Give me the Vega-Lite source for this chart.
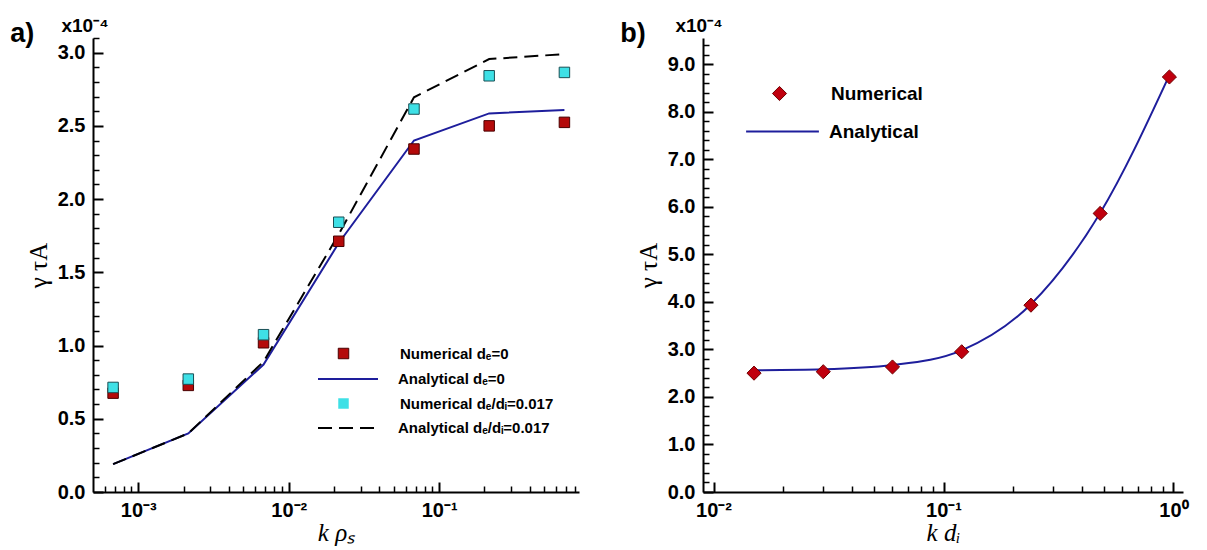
{
  "$schema": "https://vega.github.io/schema/vega-lite/v6.json",
  "background": "white",
  "padding": {"left": 10, "top": 17, "right": 5, "bottom": 5},
  "spacing": 41,
  "resolve": {"scale": {"fill": "independent", "stroke": "independent", "shape": "independent", "strokeDash": "independent"}, "legend": {"fill": "independent", "stroke": "independent", "shape": "independent", "strokeDash": "independent"}},
  "config": {
    "view": {"stroke": null},
    "axis": {
      "grid": false,
      "domainColor": "black",
      "domainWidth": 2,
      "tickColor": "black",
      "tickWidth": 1.5,
      "labelFont": "Liberation Sans",
      "labelFontWeight": "bold",
      "labelFontSize": 20,
      "labelColor": "black",
      "titleFont": "Liberation Serif",
      "titleFontWeight": "normal",
      "titleFontSize": 25,
      "titleColor": "black",
      "labelOverlap": false,
      "labelFlush": false
    },
    "legend": {"labelFont": "Liberation Sans", "labelFontWeight": "bold", "labelColor": "black", "labelLimit": 400, "title": null, "orient": "none"},
    "title": {"font": "Liberation Sans", "fontSize": 27, "fontWeight": "bold", "anchor": "start", "color": "black", "frame": "bounds"}
  },
  "datasets": {
    "left": [
      {"k": 0.00068, "v": 0.675, "series": "Numerical dₑ=0"},
      {"k": 0.00215, "v": 0.728, "series": "Numerical dₑ=0"},
      {"k": 0.0068, "v": 1.019, "series": "Numerical dₑ=0"},
      {"k": 0.0215, "v": 1.712, "series": "Numerical dₑ=0"},
      {"k": 0.068, "v": 2.342, "series": "Numerical dₑ=0"},
      {"k": 0.215, "v": 2.5, "series": "Numerical dₑ=0"},
      {"k": 0.68, "v": 2.524, "series": "Numerical dₑ=0"},
      {"k": 0.00068, "v": 0.714, "series": "Numerical dₑ/dᵢ=0.017"},
      {"k": 0.00215, "v": 0.771, "series": "Numerical dₑ/dᵢ=0.017"},
      {"k": 0.0068, "v": 1.074, "series": "Numerical dₑ/dᵢ=0.017"},
      {"k": 0.0215, "v": 1.842, "series": "Numerical dₑ/dᵢ=0.017"},
      {"k": 0.068, "v": 2.615, "series": "Numerical dₑ/dᵢ=0.017"},
      {"k": 0.215, "v": 2.842, "series": "Numerical dₑ/dᵢ=0.017"},
      {"k": 0.68, "v": 2.865, "series": "Numerical dₑ/dᵢ=0.017"},
      {"k": 0.00068, "v": 0.19, "series": "Analytical dₑ=0"},
      {"k": 0.00215, "v": 0.40, "series": "Analytical dₑ=0"},
      {"k": 0.0068, "v": 0.87, "series": "Analytical dₑ=0"},
      {"k": 0.0215, "v": 1.70, "series": "Analytical dₑ=0"},
      {"k": 0.068, "v": 2.40, "series": "Analytical dₑ=0"},
      {"k": 0.215, "v": 2.585, "series": "Analytical dₑ=0"},
      {"k": 0.68, "v": 2.608, "series": "Analytical dₑ=0"},
      {"k": 0.00068, "v": 0.19, "series": "Analytical dₑ/dᵢ=0.017"},
      {"k": 0.00215, "v": 0.40, "series": "Analytical dₑ/dᵢ=0.017"},
      {"k": 0.0068, "v": 0.89, "series": "Analytical dₑ/dᵢ=0.017"},
      {"k": 0.0215, "v": 1.76, "series": "Analytical dₑ/dᵢ=0.017"},
      {"k": 0.068, "v": 2.695, "series": "Analytical dₑ/dᵢ=0.017"},
      {"k": 0.215, "v": 2.956, "series": "Analytical dₑ/dᵢ=0.017"},
      {"k": 0.68, "v": 2.99, "series": "Analytical dₑ/dᵢ=0.017"}
    ],
    "right": [
      {"k": 0.015, "v": 2.50, "series": "Numerical"},
      {"k": 0.03, "v": 2.53, "series": "Numerical"},
      {"k": 0.06, "v": 2.63, "series": "Numerical"},
      {"k": 0.12, "v": 2.95, "series": "Numerical"},
      {"k": 0.24, "v": 3.93, "series": "Numerical"},
      {"k": 0.48, "v": 5.86, "series": "Numerical"},
      {"k": 0.96, "v": 8.73, "series": "Numerical"},
      {"k": 0.015, "v": 2.56, "series": "Analytical"},
      {"k": 0.03, "v": 2.58, "series": "Analytical"},
      {"k": 0.06, "v": 2.67, "series": "Analytical"},
      {"k": 0.12, "v": 2.98, "series": "Analytical"},
      {"k": 0.24, "v": 3.95, "series": "Analytical"},
      {"k": 0.48, "v": 5.87, "series": "Analytical"},
      {"k": 0.96, "v": 8.77, "series": "Analytical"}
    ]
  },
  "hconcat": [
    {
      "title": {"text": "a)", "dx": -16, "offset": -31},
      "width": 486,
      "height": 454,
      "data": {"name": "left"},
      "resolve": {"axis": {"x": "independent", "y": "independent"}},
      "layer": [
        {
          "transform": [{"filter": "datum.series == 'Analytical dₑ=0'"}],
          "mark": {"type": "line", "strokeWidth": 2},
          "encoding": {
            "x": {
              "field": "k", "type": "quantitative",
              "scale": {"type": "log", "domain": [0.0005, 0.85], "nice": false},
              "axis": {
                "orient": "bottom", "offset": 0,
                "title": "k ρₛ",
                "titleFontStyle": "italic",
                "titlePadding": 0,
                "values": [0.001, 0.01, 0.1],
                "ticks": false,
                "labelPadding": 8,
                "labelOverlap": false,
                "labelExpr": "round(log(datum.value)/LN10) == -3 ? '10⁻³' : round(log(datum.value)/LN10) == -2 ? '10⁻²' : round(log(datum.value)/LN10) == -1 ? '10⁻¹' : '10⁰'"
              }
            },
            "y": {
              "field": "v", "type": "quantitative",
              "scale": {"domain": [0, 3.1], "nice": false, "zero": false},
              "axis": {
                "orient": "left", "offset": 0,
                "title": "γ τA",
                "titlePadding": 6,
                "values": [0, 0.5, 1, 1.5, 2, 2.5, 3],
                "ticks": false,
                "labelPadding": 8,
                "labelOverlap": false,
                "format": ".1f"
              }
            },
            "stroke": {
              "field": "series", "type": "nominal",
              "scale": {"domain": ["Analytical dₑ=0"], "range": ["#1e1e9c"]},
              "legend": {"legendX": 224, "legendY": 310, "symbolSize": 3600, "symbolStrokeWidth": 2, "labelFontSize": 15, "labelOffset": 19}
            }
          }
        },
        {
          "transform": [{"filter": "datum.series == 'Analytical dₑ/dᵢ=0.017'"}],
          "mark": {"type": "line", "color": "black", "strokeWidth": 2},
          "encoding": {
            "x": {
              "field": "k", "type": "quantitative",
              "axis": {
                "orient": "bottom", "offset": -10, "title": null, "labels": false, "domain": false, "ticks": true, "tickSize": 10,
                "tickColor": "black", "tickWidth": 2, "tickOpacity": 1,
                "values": [0.001, 0.01, 0.1]
              }
            },
            "y": {
              "field": "v", "type": "quantitative",
              "axis": {
                "orient": "left", "offset": -10, "title": null, "labels": false, "domain": false, "ticks": true, "tickSize": 10,
                "tickColor": "black", "tickWidth": 2, "tickOpacity": 1,
                "values": [0, 0.5, 1, 1.5, 2, 2.5, 3]
              }
            },
            "strokeDash": {
              "field": "series", "type": "nominal",
              "scale": {"domain": ["Analytical dₑ/dᵢ=0.017"], "range": [[14, 7]]},
              "legend": {"legendX": 224, "legendY": 359, "symbolSize": 3600, "symbolStrokeWidth": 2, "symbolStrokeColor": "black", "labelFontSize": 15, "labelOffset": 19}
            }
          }
        },
        {
          "transform": [{"filter": "datum.series == 'Numerical dₑ=0'"}],
          "mark": {"type": "point", "shape": "square", "filled": true, "size": 110, "strokeWidth": 1, "stroke": "#4a0000", "opacity": 1},
          "encoding": {
            "x": {
              "field": "k", "type": "quantitative",
              "axis": {
                "orient": "bottom", "offset": -6, "title": null, "labels": false, "domain": false, "ticks": true, "tickSize": 6,
                "tickColor": "black", "tickWidth": 1.5, "tickOpacity": 1,
                "values": [0.0006, 0.0007, 0.0008, 0.0009, 0.002, 0.003, 0.004, 0.005, 0.006, 0.007, 0.008, 0.009, 0.02, 0.03, 0.04, 0.05, 0.06, 0.07, 0.08, 0.09, 0.2, 0.3, 0.4, 0.5, 0.6, 0.7, 0.8]
              }
            },
            "y": {
              "field": "v", "type": "quantitative",
              "axis": {
                "orient": "left", "offset": -6, "title": null, "labels": false, "domain": false, "ticks": true, "tickSize": 6,
                "tickColor": "black", "tickWidth": 1.5, "tickOpacity": 1,
                "values": [0.1, 0.2, 0.3, 0.4, 0.6, 0.7, 0.8, 0.9, 1.1, 1.2, 1.3, 1.4, 1.6, 1.7, 1.8, 1.9, 2.1, 2.2, 2.3, 2.4, 2.6, 2.7, 2.8, 2.9, 3.1]
              }
            },
            "fill": {
              "field": "series", "type": "nominal",
              "scale": {"domain": ["Numerical dₑ=0"], "range": ["#b40a0a"]},
              "legend": {"legendX": 243, "legendY": 308, "symbolSize": 110, "symbolStrokeColor": "#4a0000", "symbolStrokeWidth": 1, "labelFontSize": 15, "labelOffset": 49}
            }
          }
        },
        {
          "transform": [{"filter": "datum.series == 'Numerical dₑ/dᵢ=0.017'"}],
          "mark": {"type": "point", "filled": true, "size": 110, "strokeWidth": 1, "fill": "#3ee0e6", "stroke": "#1a4f55", "opacity": 1},
          "encoding": {
            "x": {"field": "k", "type": "quantitative", "axis": null},
            "y": {"field": "v", "type": "quantitative", "axis": null},
            "shape": {
              "field": "series", "type": "nominal",
              "scale": {"domain": ["Numerical dₑ/dᵢ=0.017"], "range": ["square"]},
              "legend": {"legendX": 243, "legendY": 358, "symbolSize": 110, "symbolFillColor": "#3ee0e6", "symbolStrokeColor": "#1a4f55", "symbolStrokeWidth": 1, "labelFontSize": 15, "labelOffset": 49}
            }
          }
        },
        {
          "data": {"values": [{"k": 0.0005, "v": 3.1, "label": "x10⁻⁴"}]},
          "mark": {"type": "text", "font": "Liberation Sans", "fontWeight": "bold", "fontSize": 19, "align": "center", "baseline": "alphabetic", "dx": -8, "dy": -6, "color": "black"},
          "encoding": {
            "x": {"field": "k", "type": "quantitative", "axis": null},
            "y": {"field": "v", "type": "quantitative", "axis": null},
            "text": {"field": "label"}
          }
        }
      ]
    },
    {
      "title": {"text": "b)", "dx": -16, "offset": -31},
      "width": 480,
      "height": 454,
      "data": {"name": "right"},
      "resolve": {"axis": {"x": "independent", "y": "independent"}},
      "layer": [
        {
          "transform": [{"filter": "datum.series == 'Analytical'"}],
          "mark": {"type": "line", "strokeWidth": 2, "interpolate": "monotone"},
          "encoding": {
            "x": {
              "field": "k", "type": "quantitative",
              "scale": {"type": "log", "domain": [0.009, 1.1], "nice": false},
              "axis": {
                "orient": "bottom", "offset": 0,
                "title": "k dᵢ",
                "titleFontStyle": "italic",
                "titlePadding": 0,
                "values": [0.01, 0.1, 1],
                "ticks": false,
                "labelPadding": 8,
                "labelOverlap": false,
                "labelExpr": "round(log(datum.value)/LN10) == -2 ? '10⁻²' : round(log(datum.value)/LN10) == -1 ? '10⁻¹' : '10⁰'"
              }
            },
            "y": {
              "field": "v", "type": "quantitative",
              "scale": {"domain": [0, 9.55], "nice": false, "zero": false},
              "axis": {
                "orient": "left", "offset": 0,
                "title": "γ τA",
                "titlePadding": 6,
                "values": [0, 1, 2, 3, 4, 5, 6, 7, 8, 9],
                "ticks": false,
                "labelPadding": 8,
                "labelOverlap": false,
                "format": ".1f"
              }
            },
            "stroke": {
              "field": "series", "type": "nominal",
              "scale": {"domain": ["Analytical"], "range": ["#1e1e9c"]},
              "legend": {"legendX": 42, "legendY": 56, "symbolSize": 5300, "symbolStrokeWidth": 2, "labelFontSize": 19, "labelOffset": 9}
            }
          }
        },
        {
          "transform": [{"filter": "datum.series == 'Numerical'"}],
          "mark": {"type": "point", "shape": "diamond", "filled": true, "size": 200, "strokeWidth": 1, "stroke": "#700000", "opacity": 1},
          "encoding": {
            "x": {
              "field": "k", "type": "quantitative",
              "axis": {
                "orient": "bottom", "offset": -10, "title": null, "labels": false, "domain": false, "ticks": true, "tickSize": 10,
                "tickColor": "black", "tickWidth": 2, "tickOpacity": 1,
                "values": [0.01, 0.1, 1]
              }
            },
            "y": {
              "field": "v", "type": "quantitative",
              "axis": {
                "orient": "left", "offset": -10, "title": null, "labels": false, "domain": false, "ticks": true, "tickSize": 10,
                "tickColor": "black", "tickWidth": 2, "tickOpacity": 1,
                "values": [0, 1, 2, 3, 4, 5, 6, 7, 8, 9]
              }
            },
            "fill": {
              "field": "series", "type": "nominal",
              "scale": {"domain": ["Numerical"], "range": ["#c0000e"]},
              "legend": {"legendX": 67, "legendY": 46, "symbolSize": 200, "symbolStrokeColor": "#700000", "symbolStrokeWidth": 1, "labelFontSize": 19, "labelOffset": 42}
            }
          }
        },
        {
          "data": {"values": [{"k": 0.009, "v": 9.55, "label": "x10⁻⁴"}]},
          "mark": {"type": "text", "font": "Liberation Sans", "fontWeight": "bold", "fontSize": 19, "align": "center", "baseline": "alphabetic", "dx": -4, "dy": -6, "color": "black"},
          "encoding": {
            "x": {
              "field": "k", "type": "quantitative",
              "axis": {
                "orient": "bottom", "offset": -6, "title": null, "labels": false, "domain": false, "ticks": true, "tickSize": 6,
                "tickColor": "black", "tickWidth": 1.5, "tickOpacity": 1,
                "values": [0.02, 0.03, 0.04, 0.05, 0.06, 0.07, 0.08, 0.09, 0.2, 0.3, 0.4, 0.5, 0.6, 0.7, 0.8, 0.9]
              }
            },
            "y": {
              "field": "v", "type": "quantitative",
              "axis": {
                "orient": "left", "offset": -6, "title": null, "labels": false, "domain": false, "ticks": true, "tickSize": 6,
                "tickColor": "black", "tickWidth": 1.5, "tickOpacity": 1,
                "values": [0.2, 0.4, 0.6, 0.8, 1.2, 1.4, 1.6, 1.8, 2.2, 2.4, 2.6, 2.8, 3.2, 3.4, 3.6, 3.8, 4.2, 4.4, 4.6, 4.8, 5.2, 5.4, 5.6, 5.8, 6.2, 6.4, 6.6, 6.8, 7.2, 7.4, 7.6, 7.8, 8.2, 8.4, 8.6, 8.8, 9.2, 9.4]
              }
            },
            "text": {"field": "label"}
          }
        }
      ]
    }
  ]
}
